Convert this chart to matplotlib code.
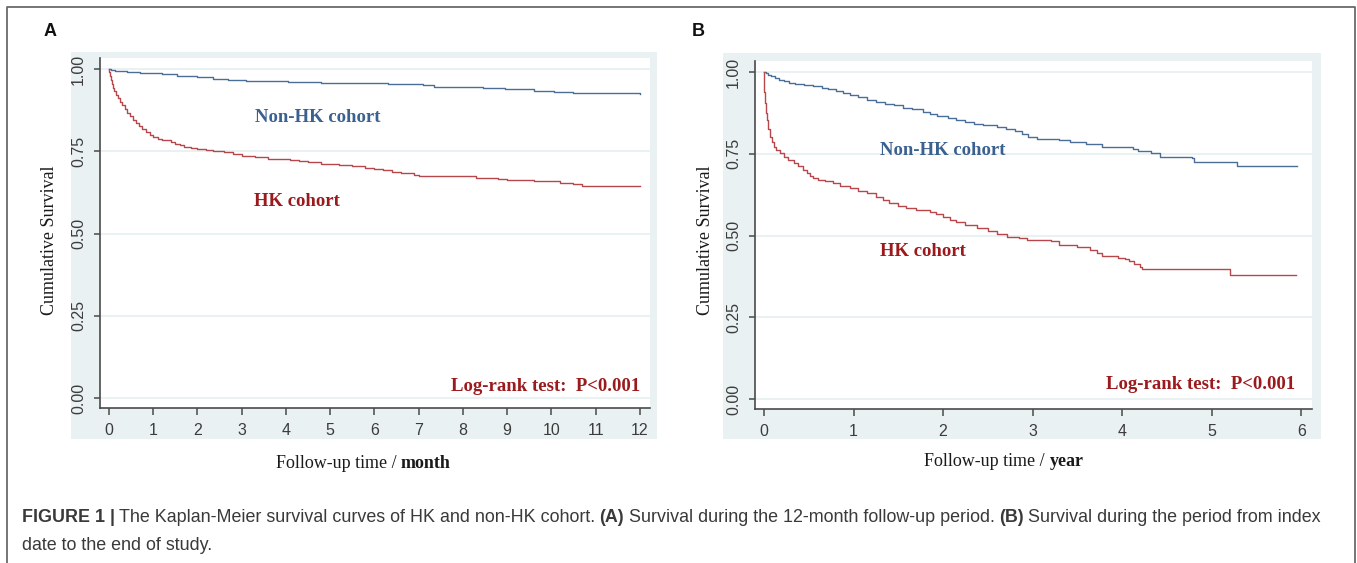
import matplotlib
matplotlib.use("Agg")
import matplotlib.pyplot as plt
from matplotlib.patches import Rectangle
from matplotlib.lines import Line2D

# ---- data ----
month_nonhk_t = [0, 0.05, 0.15, 0.4, 0.7, 1.0, 1.2, 1.55, 1.8, 2.0, 2.35, 2.7, 3.1, 4.05,
                 4.8, 6.3, 7.1, 7.35, 8.45, 8.95, 9.6, 10.05, 10.5, 12]
month_nonhk_s = [1.0, 0.997, 0.994, 0.992, 0.989, 0.987, 0.985, 0.980, 0.978, 0.975, 0.970,
                 0.968, 0.965, 0.961, 0.958, 0.955, 0.951, 0.946, 0.943, 0.939, 0.935, 0.932,
                 0.927, 0.926]

month_hk_t = [0, 0.01, 0.02, 0.04, 0.06, 0.09, 0.12, 0.16, 0.2, 0.25, 0.3, 0.36, 0.42, 0.48,
              0.55, 0.62, 0.69, 0.76, 0.84, 0.92, 1.0, 1.1, 1.2, 1.4, 1.5, 1.6, 1.7, 1.85,
              2.0, 2.2, 2.35, 2.6, 2.8, 3.0, 3.3, 3.6, 4.1, 4.3, 4.5, 4.8, 5.2, 5.5, 5.8,
              6.0, 6.2, 6.4, 6.6, 6.9, 7.0, 7.7, 8.3, 8.8, 9.0, 9.6, 10.2, 10.5, 10.7, 12]
month_hk_s = [1.0, 0.99, 0.98, 0.968, 0.955, 0.944, 0.933, 0.921, 0.911, 0.9, 0.89, 0.879,
              0.868, 0.858, 0.847, 0.836, 0.826, 0.817, 0.808, 0.8, 0.794, 0.789, 0.785,
              0.779, 0.773, 0.768, 0.764, 0.76, 0.758, 0.755, 0.75, 0.747, 0.742, 0.737,
              0.733, 0.728, 0.725, 0.721, 0.717, 0.712, 0.709, 0.706, 0.701, 0.697, 0.692,
              0.687, 0.683, 0.679, 0.676, 0.674, 0.670, 0.667, 0.664, 0.660, 0.655, 0.651,
              0.645, 0.644]

year_nonhk_t = [0, 0.02, 0.05, 0.08, 0.12, 0.17, 0.22, 0.28, 0.35, 0.45, 0.55, 0.65, 0.72,
                0.8, 0.88, 0.96, 1.05, 1.15, 1.25, 1.35, 1.45, 1.55, 1.65, 1.78, 1.85, 1.93,
                2.05, 2.15, 2.25, 2.35, 2.45, 2.6, 2.7, 2.8, 2.88, 2.95, 3.05, 3.3, 3.42,
                3.6, 3.78, 4.12, 4.18, 4.32, 4.42, 4.78, 4.8, 5.28, 5.95]
year_nonhk_s = [1.0, 0.996, 0.992, 0.988, 0.983, 0.977, 0.972, 0.967, 0.964, 0.961, 0.957,
                0.952, 0.948, 0.942, 0.936, 0.930, 0.923, 0.916, 0.910, 0.904, 0.898, 0.891,
                0.886, 0.879, 0.872, 0.866, 0.861, 0.855, 0.849, 0.842, 0.837, 0.831, 0.826,
                0.820, 0.812, 0.803, 0.796, 0.791, 0.785, 0.779, 0.772, 0.766, 0.759, 0.754,
                0.742, 0.738, 0.726, 0.713, 0.713]

year_hk_t = [0, 0.003, 0.006, 0.01, 0.02, 0.03, 0.05, 0.07, 0.09, 0.11, 0.14, 0.18, 0.22,
             0.27, 0.33, 0.38, 0.44, 0.48, 0.51, 0.55, 0.6, 0.68, 0.77, 0.85, 0.96, 1.05,
             1.15, 1.25, 1.33, 1.4, 1.5, 1.59, 1.7, 1.85, 1.92, 2.0, 2.08, 2.15, 2.25, 2.38,
             2.5, 2.6, 2.71, 2.85, 2.94, 3.2, 3.3, 3.5, 3.64, 3.72, 3.78, 3.95, 4.03, 4.08,
             4.13, 4.2, 4.22, 5.2, 5.94]
year_hk_s = [1.0, 0.97, 0.94, 0.905, 0.875, 0.854, 0.825, 0.803, 0.785, 0.772, 0.762, 0.752,
             0.742, 0.732, 0.721, 0.712, 0.701, 0.692, 0.682, 0.675, 0.671, 0.666, 0.66,
             0.653, 0.645, 0.637, 0.629, 0.619, 0.61, 0.6, 0.592, 0.585, 0.578, 0.573,
             0.566, 0.558, 0.549, 0.541, 0.532, 0.523, 0.514, 0.504, 0.496, 0.494, 0.487,
             0.484, 0.471, 0.466, 0.456, 0.447, 0.437, 0.432, 0.428, 0.421, 0.414, 0.405,
             0.398, 0.379, 0.379]

yticks = [0, 0.25, 0.5, 0.75, 1.0]
ytick_labels = ["0.00", "0.25", "0.50", "0.75", "1.00"]
month_ticks = list(range(0, 13))
year_ticks = list(range(0, 7))

BLUE_LINE = "#4a6e98"
RED_LINE = "#b8474c"
BLUE_TXT = "#3a6190"
RED_TXT = "#9b1a1d"
BG = "#eaf1f3"
AX_COL = "#4a4a4a"
TICK_COL = "#3c3c3c"

W, H = 1357, 563
fig = plt.figure(figsize=(W / 100, H / 100), dpi=100)
fig.patch.set_facecolor("white")


def fx(x):
    return x / W


def fy(y):
    return 1 - y / H


def rect(l, t, r, b):
    return [fx(l), fy(b), fx(r) - fx(l), fy(t) - fy(b)]


# outer frame (left, top, right)
fig.add_artist(Line2D([fx(7), fx(7), fx(1355), fx(1355)], [0, fy(7), fy(7), 0],
                      color="#6a6a6a", lw=1.3, transform=fig.transFigure))

# light graph-region backgrounds
for l, t, r, b in [(71, 52, 657, 439), (723, 53, 1321, 439)]:
    fig.add_artist(Rectangle((fx(l), fy(b)), fx(r) - fx(l), fy(t) - fy(b),
                             transform=fig.transFigure, facecolor=BG, edgecolor="none",
                             zorder=0))

serif = ["Liberation Serif", "DejaVu Serif"]
sans = ["Liberation Sans", "DejaVu Sans"]


def style_axes(ax, xticks, xlim):
    ax.set_facecolor("white")
    ax.set_xlim(*xlim)
    ax.set_ylim(-0.03, 1.034)
    for s in ["top", "right"]:
        ax.spines[s].set_visible(False)
    for s in ["left", "bottom"]:
        ax.spines[s].set_color(AX_COL)
        ax.spines[s].set_linewidth(1.2)
    ax.set_yticks(yticks)
    ax.set_yticklabels(ytick_labels, rotation=90, va="center", family=sans,
                       fontsize=11.5, color=TICK_COL)
    ax.set_xticks(xticks)
    ax.set_xticklabels([str(v) for v in xticks], family=sans, fontsize=11.5,
                       color=TICK_COL)
    ax.tick_params(axis="y", length=4, width=1.1, color=AX_COL, pad=6)
    ax.tick_params(axis="x", length=5, width=1.1, color=AX_COL, pad=6)
    for v in yticks:
        ax.axhline(v, color="#e6eff1", lw=1.2, zorder=0)


def panel(ax, t1, s1, t2, s2, nonhk_pos, hk_pos, logrank_pos):
    ax.plot(t1, s1, drawstyle="steps-post", color=BLUE_LINE, lw=1.0, zorder=3)
    ax.plot(t2, s2, drawstyle="steps-post", color=RED_LINE, lw=1.0, zorder=3)
    ax.text(*nonhk_pos, "Non-HK cohort", family=serif, weight="bold", fontsize=13.5,
            color=BLUE_TXT, va="center", ha="left")
    ax.text(*hk_pos, "HK cohort", family=serif, weight="bold", fontsize=13.5,
            color=RED_TXT, va="center", ha="left")
    ax.text(*logrank_pos, "Log-rank test:  P<0.001", family=serif, weight="bold",
            fontsize=13.5, color=RED_TXT, va="center", ha="right")


axA = fig.add_axes(rect(100, 58, 650, 408))
style_axes(axA, month_ticks, (-0.2, 12.23))
panel(axA, month_nonhk_t, month_nonhk_s, month_hk_t, month_hk_s,
      (3.3, 0.854), (3.28, 0.599), (12.0, 0.036))

axB = fig.add_axes(rect(755, 61, 1312, 409))
style_axes(axB, year_ticks, (-0.1, 6.12))
panel(axB, year_nonhk_t, year_nonhk_s, year_hk_t, year_hk_s,
      (1.3, 0.761), (1.3, 0.453), (5.93, 0.046))

# y labels
for x in (50, 706):
    fig.text(fx(x), fy(240), "Cumulative Survival", rotation=90, family=serif,
             fontsize=13, ha="center", va="center", color="#1a1a1a")

# panel letters
fig.text(fx(44), fy(32), "A", family=sans, weight="bold", fontsize=13, va="center",
         color="#111111")
fig.text(fx(692), fy(32), "B", family=sans, weight="bold", fontsize=13, va="center",
         color="#111111")

renderer = fig.canvas.get_renderer()


def rich_line(x, y, parts, family, size, color, ha="left", gap=0.0):
    # parts: list of (text, weight); placed one after another in pixels
    objs = []
    widths = []
    for txt, wt in parts:
        t = fig.text(0, fy(y), txt, family=family, weight=wt, fontsize=size,
                     color=color, va="center", ha="left")
        objs.append(t)
        widths.append(t.get_window_extent(renderer).width)
    total = sum(widths) + gap * (len(parts) - 1)
    start = x - total / 2 if ha == "center" else x
    cur = start
    for t, w in zip(objs, widths):
        t.set_x(fx(cur))
        cur += w + gap


rich_line(363, 463, [("Follow-up time /", "normal"), ("month", "bold")], serif, 13,
          "#1a1a1a", ha="center", gap=4.5)
rich_line(1004, 462, [("Follow-up time /", "normal"), ("year", "bold")], serif, 13,
          "#1a1a1a", ha="center", gap=4.5)

# caption
cap_col = "#3a3a3a"
rich_line(22, 517, [("FIGURE 1", "bold"), ("|", "bold"),
                    ("The Kaplan-Meier survival curves of HK and non-HK cohort.", "normal"),
                    ("(A)", "bold"),
                    ("Survival during the 12-month follow-up period.", "normal"),
                    ("(B)", "bold"),
                    ("Survival during the period from index", "normal")],
          sans, 12.9, cap_col, gap=4.5)
fig.text(fx(22), fy(545), "date to the end of study.", family=sans, fontsize=12.9,
         color=cap_col, va="center", ha="left")

fig.savefig("out.png", dpi=100)
